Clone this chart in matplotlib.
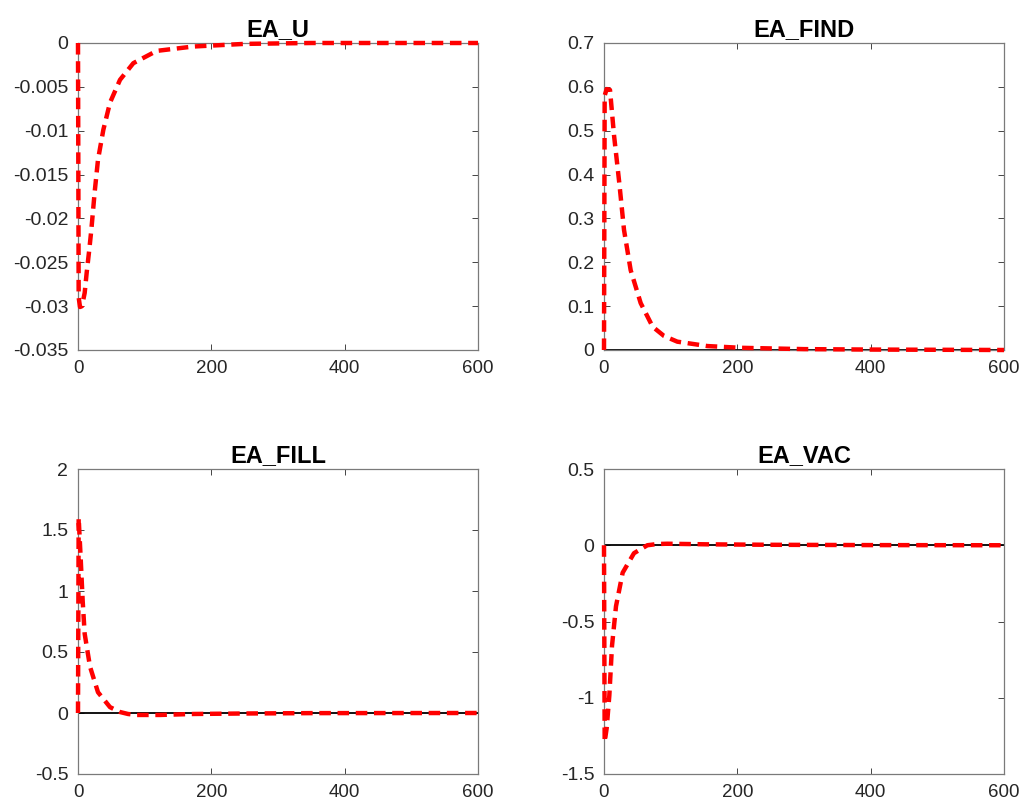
import matplotlib
matplotlib.use("Agg")
import matplotlib.pyplot as plt

plt.rcParams['font.family'] = ['Liberation Sans', 'DejaVu Sans']

t_u = [0, 1, 3, 6, 10, 13, 17, 20, 25, 30, 38, 48, 63, 83, 118, 173, 250, 350, 450, 600]
ea_u = [0, -0.0290, -0.0301, -0.0300, -0.0285, -0.0262, -0.0235, -0.0213, -0.0170, -0.0133,
        -0.0099, -0.0068, -0.0042, -0.0023, -0.0009, -0.0004, -0.0001, 0, 0, 0]

t_find = [0, 1, 4, 9, 15, 23, 30, 40, 55, 73, 90, 110, 155, 205, 300, 400, 600]
ea_find = [0, 0.58, 0.595, 0.593, 0.49, 0.38, 0.274, 0.182, 0.107, 0.053, 0.032, 0.019,
           0.009, 0.005, 0.002, 0.001, 0]

t_fill = [0, 1, 4, 7, 10, 18, 30, 48, 63, 75, 88, 123, 173, 250, 350, 600]
ea_fill = [0, 1.60, 1.27, 0.92, 0.65, 0.38, 0.17, 0.048, 0.008, -0.008, -0.016, -0.016,
           -0.008, -0.004, -0.001, 0]

t_vac = [0, 1, 4, 8, 12, 18, 28, 45, 65, 80, 95, 155, 250, 400, 600]
ea_vac = [0, -1.29, -1.20, -0.985, -0.66, -0.40, -0.18, -0.052, 0.0, 0.008, 0.01, 0.006,
          0.003, 0.001, 0]

titles = ['EA_U', 'EA_FIND', 'EA_FILL', 'EA_VAC']
ylims = [(-0.035, 0), (0, 0.7), (-0.5, 2), (-1.5, 0.5)]
yticks = [[-0.035, -0.03, -0.025, -0.02, -0.015, -0.01, -0.005, 0],
          [0, 0.1, 0.2, 0.3, 0.4, 0.5, 0.6, 0.7],
          [-0.5, 0, 0.5, 1, 1.5, 2],
          [-1.5, -1, -0.5, 0, 0.5]]
ylabels = [['-0.035', '-0.03', '-0.025', '-0.02', '-0.015', '-0.01', '-0.005', '0'],
           ['0', '0.1', '0.2', '0.3', '0.4', '0.5', '0.6', '0.7'],
           ['-0.5', '0', '0.5', '1', '1.5', '2'],
           ['-1.5', '-1', '-0.5', '0', '0.5']]
xticks = [0, 200, 400, 600]

series = [(t_u, ea_u), (t_find, ea_find), (t_fill, ea_fill), (t_vac, ea_vac)]

fig = plt.figure(figsize=(10.2, 8.01), dpi=100)
W, H = 1020, 801
boxes = [(78, 43, 400, 307), (604, 43, 400, 307),
         (78, 469, 400, 305), (604, 469, 400, 305)]

edge = '#262626'
for i, (x0, y0, w, h) in enumerate(boxes):
    ax = fig.add_axes([x0 / W, 1 - (y0 + h) / H, w / W, h / H])
    t, v = series[i]
    ax.plot([0, 600], [0, 0], color='black', lw=1.3, zorder=2)
    ax.plot(t, v, color='red', lw=3.2, dashes=(2.6, 1.5), zorder=3, clip_on=False)
    ax.set_xlim(0, 600)
    ax.set_ylim(*ylims[i])
    ax.set_xticks(xticks)
    ax.set_xticklabels([str(x) for x in xticks])
    ax.set_yticks(yticks[i])
    ax.set_yticklabels(ylabels[i])
    ax.tick_params(direction='in', top=True, right=True, length=4, width=0.6,
                   colors=edge, labelsize=14, labelcolor=edge, pad=7)
    ax.tick_params(axis='x', labelsize=13.5)
    for s in ax.spines.values():
        s.set_color('#7a7a7a')
        s.set_linewidth(0.9)
    ax.set_title(titles[i], fontsize=17, fontweight='bold', pad=5)

fig.savefig('out.png', dpi=100)
